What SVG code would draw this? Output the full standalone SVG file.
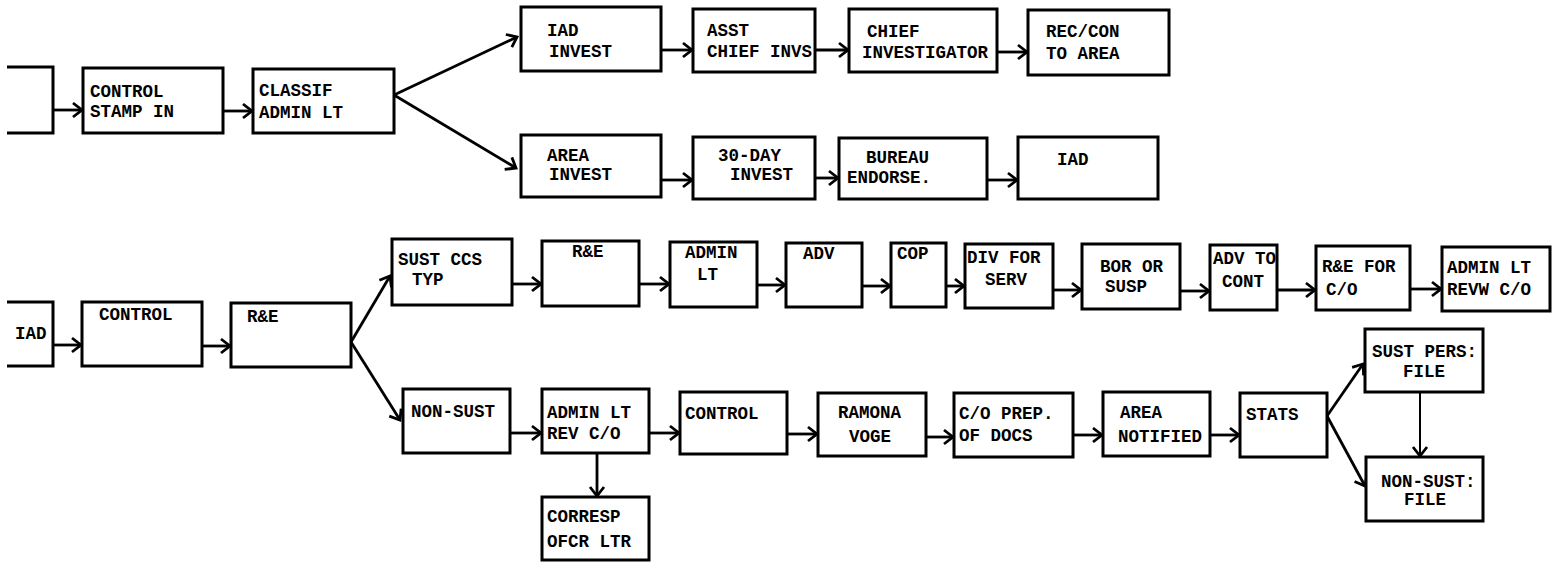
<svg xmlns="http://www.w3.org/2000/svg" width="1555" height="562" viewBox="0 0 1555 562">
<style>
.b{fill:#fff;stroke:#000;stroke-width:3}
.p{fill:none;stroke:#000;stroke-width:3}
.t{font-family:"Liberation Mono","Courier New",monospace;font-weight:bold;font-size:17.5px;fill:#000}
.c{fill:none;stroke:#000;stroke-width:2.8;marker-end:url(#ah)}
.thin{stroke-width:2}
</style>
<defs>
<marker id="ah" markerUnits="userSpaceOnUse" markerWidth="16" markerHeight="18" viewBox="-12 -9 14 18" refX="0" refY="0" orient="auto">
<path d="M-9,-7 L0,0 L-9,7" fill="none" stroke="#000" stroke-width="2.8" stroke-linejoin="miter"/>
</marker>
</defs>
<rect width="1555" height="562" fill="#fff"/>

<g id="connectors">
<line class="c" x1="53" y1="110" x2="82" y2="110"/>
<line class="c" x1="223" y1="111" x2="252" y2="111"/>
<line class="c" x1="394" y1="95" x2="517" y2="37"/>
<line class="c" x1="394" y1="95" x2="516" y2="168"/>
<line class="c" x1="661" y1="50" x2="692" y2="50"/>
<line class="c" x1="815" y1="50" x2="848" y2="50"/>
<line class="c" x1="997" y1="52" x2="1027" y2="52"/>
<line class="c" x1="661" y1="180" x2="692" y2="180"/>
<line class="c" x1="815" y1="178" x2="838" y2="178"/>
<line class="c" x1="987" y1="180" x2="1017" y2="180"/>

<line class="c" x1="53" y1="345" x2="81" y2="345"/>
<line class="c" x1="202" y1="346" x2="230" y2="346"/>
<line class="c" x1="351" y1="342" x2="390" y2="276"/>
<line class="c" x1="351" y1="342" x2="400" y2="420"/>
<line class="c" x1="512" y1="284" x2="541" y2="284"/>
<line class="c" x1="639" y1="284" x2="669" y2="284"/>
<line class="c" x1="757" y1="285" x2="785" y2="285"/>
<line class="c" x1="862" y1="286" x2="890" y2="286"/>
<line class="c" x1="946" y1="286" x2="964" y2="286"/>
<line class="c" x1="1053" y1="290" x2="1081" y2="290"/>
<line class="c" x1="1180" y1="291" x2="1209" y2="291"/>
<line class="c" x1="1277" y1="290" x2="1315" y2="290"/>
<line class="c" x1="1410" y1="289" x2="1441" y2="289"/>

<line class="c" x1="510" y1="433" x2="541" y2="433"/>
<line class="c" x1="649" y1="433" x2="679" y2="433"/>
<line class="c" x1="787" y1="434" x2="817" y2="434"/>
<line class="c" x1="926" y1="437" x2="953" y2="437"/>
<line class="c" x1="1073" y1="435" x2="1102" y2="435"/>
<line class="c" x1="1210" y1="435" x2="1239" y2="435"/>
<line class="c" x1="1327" y1="416" x2="1363" y2="364"/>
<line class="c" x1="1327" y1="416" x2="1365" y2="486"/>
<line class="c thin" x1="1420" y1="393" x2="1420" y2="456"/>
<line class="c" x1="597" y1="453" x2="597" y2="496"/>
</g>

<g id="n-start"><path class="p" d="M7,67 H53 V133 H7"/></g>
<g id="n-control-stamp"><rect class="b" x="83" y="68" width="140" height="65"/><text class="t" x="90" y="97">CONTROL</text><text class="t" x="90" y="117">STAMP IN</text></g>
<g id="n-classif"><rect class="b" x="253" y="69" width="141" height="64"/><text class="t" x="259" y="96">CLASSIF</text><text class="t" x="259" y="118">ADMIN LT</text></g>
<g id="n-iad-invest"><rect class="b" x="521" y="7" width="140" height="64"/><text class="t" x="547" y="36">IAD</text><text class="t" x="549" y="57">INVEST</text></g>
<g id="n-asst"><rect class="b" x="693" y="9" width="122" height="63"/><text class="t" x="707" y="36">ASST</text><text class="t" x="707" y="57">CHIEF INVS</text></g>
<g id="n-chief"><rect class="b" x="849" y="9" width="148" height="63"/><text class="t" x="867" y="37">CHIEF</text><text class="t" x="862" y="58">INVESTIGATOR</text></g>
<g id="n-reccon"><rect class="b" x="1028" y="10" width="141" height="65"/><text class="t" x="1046" y="37">REC/CON</text><text class="t" x="1046" y="59">TO AREA</text></g>
<g id="n-area-invest"><rect class="b" x="521" y="135" width="140" height="62"/><text class="t" x="547" y="161">AREA</text><text class="t" x="549" y="180">INVEST</text></g>
<g id="n-30day"><rect class="b" x="693" y="137" width="122" height="62"/><text class="t" x="718" y="161">30-DAY</text><text class="t" x="730" y="180">INVEST</text></g>
<g id="n-bureau"><rect class="b" x="839" y="138" width="148" height="61"/><text class="t" x="866" y="163">BUREAU</text><text class="t" x="847" y="183">ENDORSE.</text></g>
<g id="n-iad-top"><rect class="b" x="1018" y="137" width="140" height="62"/><text class="t" x="1057" y="165">IAD</text></g>

<g id="n-iad2"><path class="p" d="M7,302 H53 V366 H7"/><text class="t" x="15" y="339">IAD</text></g>
<g id="n-control2"><rect class="b" x="82" y="302" width="120" height="64"/><text class="t" x="99" y="320">CONTROL</text></g>
<g id="n-re1"><rect class="b" x="231" y="303" width="120" height="64"/><text class="t" x="247" y="322">R&amp;E</text></g>
<g id="n-sust-ccs"><rect class="b" x="392" y="239" width="120" height="66"/><text class="t" x="398" y="265">SUST CCS</text><text class="t" x="412" y="285">TYP</text></g>
<g id="n-re2"><rect class="b" x="542" y="241" width="97" height="65"/><text class="t" x="572" y="257">R&amp;E</text></g>
<g id="n-adminlt"><rect class="b" x="670" y="242" width="87" height="65"/><text class="t" x="685" y="258">ADMIN</text><text class="t" x="697" y="280">LT</text></g>
<g id="n-adv"><rect class="b" x="786" y="243" width="76" height="64"/><text class="t" x="803" y="259">ADV</text></g>
<g id="n-cop"><rect class="b" x="891" y="243" width="55" height="64"/><text class="t" x="897" y="259">COP</text></g>
<g id="n-div"><rect class="b" x="965" y="244" width="88" height="64"/><text class="t" x="967" y="263">DIV FOR</text><text class="t" x="985" y="285">SERV</text></g>
<g id="n-bor"><rect class="b" x="1082" y="244" width="98" height="65"/><text class="t" x="1100" y="272">BOR OR</text><text class="t" x="1105" y="292">SUSP</text></g>
<g id="n-advto"><rect class="b" x="1210" y="245" width="67" height="65"/><text class="t" x="1213" y="264">ADV TO</text><text class="t" x="1222" y="287">CONT</text></g>
<g id="n-refor"><rect class="b" x="1316" y="246" width="94" height="64"/><text class="t" x="1322" y="272">R&amp;E FOR</text><text class="t" x="1326" y="295">C/O</text></g>
<g id="n-adminrevw"><rect class="b" x="1442" y="247" width="108" height="64"/><text class="t" x="1447" y="273">ADMIN LT</text><text class="t" x="1447" y="295">REVW C/O</text></g>

<g id="n-nonsust"><rect class="b" x="403" y="389" width="107" height="64"/><text class="t" x="411" y="417">NON-SUST</text></g>
<g id="n-adminrev"><rect class="b" x="542" y="389" width="107" height="64"/><text class="t" x="547" y="418">ADMIN LT</text><text class="t" x="547" y="439">REV C/O</text></g>
<g id="n-corresp"><rect class="b" x="542" y="497" width="107" height="63"/><text class="t" x="547" y="522">CORRESP</text><text class="t" x="547" y="547">OFCR LTR</text></g>
<g id="n-control3"><rect class="b" x="680" y="392" width="107" height="62"/><text class="t" x="685" y="419">CONTROL</text></g>
<g id="n-ramona"><rect class="b" x="818" y="393" width="108" height="63"/><text class="t" x="838" y="418">RAMONA</text><text class="t" x="849" y="442">VOGE</text></g>
<g id="n-coprep"><rect class="b" x="954" y="393" width="119" height="64"/><text class="t" x="959" y="419">C/O PREP.</text><text class="t" x="959" y="441">OF DOCS</text></g>
<g id="n-areanot"><rect class="b" x="1103" y="392" width="107" height="64"/><text class="t" x="1120" y="418">AREA</text><text class="t" x="1118" y="442">NOTIFIED</text></g>
<g id="n-stats"><rect class="b" x="1240" y="393" width="87" height="64"/><text class="t" x="1246" y="420">STATS</text></g>
<g id="n-sustpers"><rect class="b" x="1365" y="329" width="118" height="63"/><text class="t" x="1372" y="357">SUST PERS:</text><text class="t" x="1403" y="377">FILE</text></g>
<g id="n-nonsustfile"><rect class="b" x="1366" y="457" width="117" height="64"/><text class="t" x="1381" y="487">NON-SUST:</text><text class="t" x="1404" y="505">FILE</text></g>
</svg>
